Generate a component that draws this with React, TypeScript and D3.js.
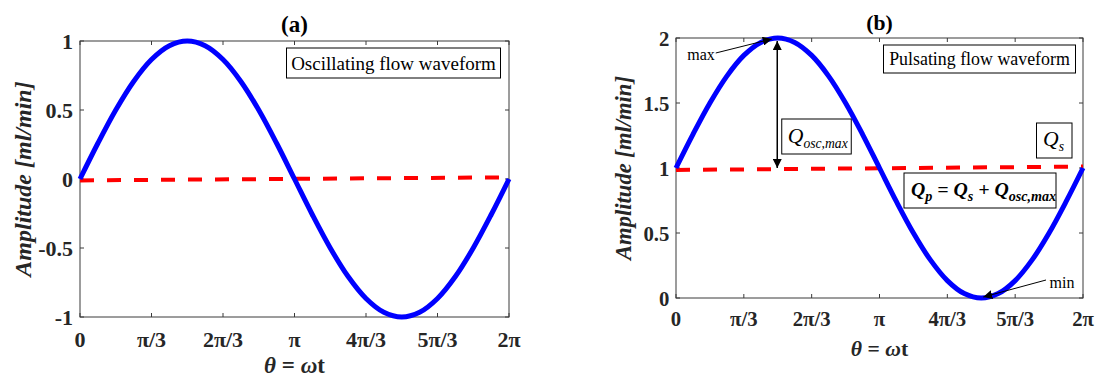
import React from "react";
import * as d3 from "d3";

const PI = Math.PI;

// ---- data ----
const thetaTicks = [0, PI / 3, (2 * PI) / 3, PI, (4 * PI) / 3, (5 * PI) / 3, 2 * PI];
const thetaTickLabels = ["0", "π/3", "2π/3", "π", "4π/3", "5π/3", "2π"];
const thetaSamples = [
  0, PI / 12, (2 * PI) / 12, (3 * PI) / 12, (4 * PI) / 12, (5 * PI) / 12, (6 * PI) / 12,
  (7 * PI) / 12, (8 * PI) / 12, (9 * PI) / 12, (10 * PI) / 12, (11 * PI) / 12, PI,
  (13 * PI) / 12, (14 * PI) / 12, (15 * PI) / 12, (16 * PI) / 12, (17 * PI) / 12, (18 * PI) / 12,
  (19 * PI) / 12, (20 * PI) / 12, (21 * PI) / 12, (22 * PI) / 12, (23 * PI) / 12, 2 * PI,
];
const oscillatingFlow = [
  0, 0.259, 0.5, 0.707, 0.866, 0.966, 1, 0.966, 0.866, 0.707, 0.5, 0.259, 0,
  -0.259, -0.5, -0.707, -0.866, -0.966, -1, -0.966, -0.866, -0.707, -0.5, -0.259, 0,
];
const pulsatingFlow = [
  1, 1.259, 1.5, 1.707, 1.866, 1.966, 2, 1.966, 1.866, 1.707, 1.5, 1.259, 1,
  0.741, 0.5, 0.293, 0.134, 0.034, 0, 0.034, 0.134, 0.293, 0.5, 0.741, 1,
];
const steadyTheta = [0, 2 * PI];
const steadyOscillating = [-0.01, 0.012];
const steadyPulsating = [0.985, 1.011];
const oscTicks = [-1, -0.5, 0, 0.5, 1];
const oscTickLabels = ["-1", "-0.5", "0", "0.5", "1"];
const pulsTicks = [0, 0.5, 1, 1.5, 2];
const pulsTickLabels = ["0", "0.5", "1", "1.5", "2"];

const FONT = "Liberation Serif, Times New Roman, Times, serif";
const AXIS = "#3a3a3a";

type Sc = d3.ScaleLinear<number, number>;
type PanelProps = {
  box: { l: number; r: number; t: number; b: number };
  yDomain: [number, number];
  yTicks: number[];
  yTickLabels: string[];
  values: number[];
  steady: number[];
  title: string;
  fs: number;
  yLabelX: number;
  xLabelDy: number;
  legend: string;
  legendBox: (x: Sc, y: Sc) => { x0: number; x1: number; y0: number; y1: number };
  extras?: (x: Sc, y: Sc) => React.ReactNode;
};

function Panel(p: PanelProps) {
  const { box, fs } = p;
  const x = d3.scaleLinear().domain([0, 2 * PI]).range([box.l, box.r]);
  const y = d3.scaleLinear().domain(p.yDomain).range([box.b, box.t]);
  const line = d3
    .line<number>()
    .x((_, i) => x(thetaSamples[i]))
    .y((d) => y(d))
    .curve(d3.curveCatmullRom);
  const steadyLine = d3
    .line<number>()
    .x((_, i) => x(steadyTheta[i]))
    .y((d) => y(d));
  const tl = 4;
  const lb = p.legendBox(x, y);
  const cx = (box.l + box.r) / 2;
  const cy = (box.t + box.b) / 2;
  return (
    <g fontFamily={FONT}>
      <rect x={box.l} y={box.t} width={box.r - box.l} height={box.b - box.t} fill="none" stroke={AXIS} strokeWidth={1} />
      {thetaTicks.map((t, i) => (
        <g key={"xt" + i}>
          <line x1={x(t)} x2={x(t)} y1={box.b} y2={box.b - tl} stroke={AXIS} />
          <line x1={x(t)} x2={x(t)} y1={box.t} y2={box.t + tl} stroke={AXIS} />
          <text x={x(t)} y={box.b + 30 * fs} textAnchor="middle" fontWeight="bold" fontSize={22 * fs} fill="#262626">
            {thetaTickLabels[i]}
          </text>
        </g>
      ))}
      {p.yTicks.map((v, i) => (
        <g key={"yt" + i}>
          <line x1={box.l} x2={box.l + tl} y1={y(v)} y2={y(v)} stroke={AXIS} />
          <line x1={box.r} x2={box.r - tl} y1={y(v)} y2={y(v)} stroke={AXIS} />
          <text x={box.l - 7 * fs} y={y(v) + 8 * fs} textAnchor="end" fontWeight="bold" fontSize={22 * fs} fill="#262626">
            {p.yTickLabels[i]}
          </text>
        </g>
      ))}
      <path d={steadyLine(p.steady) || ""} fill="none" stroke="#ff0000" strokeWidth={4} strokeDasharray="14 13" />
      <path d={line(p.values) || ""} fill="none" stroke="#0000ff" strokeWidth={5} />
      <text x={cx} y={box.t - 9 * fs} textAnchor="middle" fontWeight="bold" fontSize={23 * fs} fill="#000">
        {p.title}
      </text>
      <text x={cx} y={box.b + p.xLabelDy} textAnchor="middle" fontWeight="bold" fontSize={23 * fs} fill="#262626">
        <tspan fontStyle="italic">θ</tspan>
        <tspan> = </tspan>
        <tspan fontStyle="italic">ω</tspan>
        <tspan>t</tspan>
      </text>
      <text
        transform={`translate(${p.yLabelX},${cy}) rotate(-90)`}
        textAnchor="middle"
        dominantBaseline="central"
        fontWeight="bold"
        fontStyle="italic"
        fontSize={24 * fs}
        fill="#262626"
      >
        Amplitude [ml/min]
      </text>
      <rect x={lb.x0} y={lb.y0} width={lb.x1 - lb.x0} height={lb.y1 - lb.y0} fill="#fff" stroke="#000" strokeWidth={1} />
      <text x={(lb.x0 + lb.x1) / 2} y={(lb.y0 + lb.y1) / 2 + 6.5 * fs} textAnchor="middle" fontSize={19 * fs} fill="#000">
        {p.legend}
      </text>
      {p.extras && p.extras(x, y)}
    </g>
  );
}

export default function App() {
  const s = 0.942;
  return (
    <svg
      width={1096}
      height={380}
      viewBox="0 0 1096 380"
      style={{ position: "absolute", left: 0, top: 0, background: "#fff" }}
    >
      <defs>
        <marker id="ah" viewBox="0 0 10 10" refX="10" refY="5" markerWidth="9" markerHeight="9" markerUnits="userSpaceOnUse" orient="auto-start-reverse">
          <path d="M0,0 L10,5 L0,10 z" fill="#000" />
        </marker>
      </defs>
      <rect x={0} y={0} width={1096} height={380} fill="#fff" />
      <Panel
        box={{ l: 80, r: 509, t: 41, b: 317 }}
        yDomain={[-1, 1]}
        yTicks={oscTicks}
        yTickLabels={oscTickLabels}
        values={oscillatingFlow}
        steady={steadyOscillating}
        title="(a)"
        fs={1}
        yLabelX={23}
        xLabelDy={56}
        legend="Oscillating flow waveform"
        legendBox={(x, y) => ({ x0: x(PI) - 8, x1: x(2 * PI) - 8.5, y0: y(1) + 7, y1: y(1) + 37 })}
      />
      <Panel
        box={{ l: 676, r: 1083, t: 38, b: 298 }}
        yDomain={[0, 2]}
        yTicks={pulsTicks}
        yTickLabels={pulsTickLabels}
        values={pulsatingFlow}
        steady={steadyPulsating}
        title="(b)"
        fs={s}
        yLabelX={623}
        xLabelDy={58}
        legend="Pulsating flow waveform"
        legendBox={(x, y) => ({ x0: x(PI) + 4, x1: x(2 * PI) - 7.5, y0: y(2) + 7, y1: y(2) + 35 })}
        extras={(x, y) => {
          const px = x(PI / 2);
          const qx0 = px + 4;
          const qpx0 = x(PI) + 24.5;
          return (
            <g fontFamily={FONT}>
              <text x={px - 63} y={y(2) + 22} textAnchor="end" fontSize={17 * s} fill="#000">max</text>
              <line x1={px - 62} y1={y(2) + 15} x2={px - 6} y2={y(2) + 1} stroke="#000" strokeWidth={1} markerEnd="url(#ah)" />
              <line x1={px - 0.5} y1={y(2) + 3} x2={px - 0.5} y2={y(1)} stroke="#000" strokeWidth={1.5} markerEnd="url(#ah)" markerStart="url(#ah)" />
              <rect x={qx0} y={y(1) - 49} width={69.5} height={35} fill="#fff" stroke="#000" />
              <text x={qx0 + 6} y={y(1) - 25} fontSize={23 * s} fontStyle="italic" fill="#000">
                Q<tspan fontSize={14.5 * s} dy={5}>osc,max</tspan>
              </text>
              <rect x={x(2 * PI) - 46.5} y={y(1) - 45} width={35.5} height={35} fill="#fff" stroke="#000" />
              <text x={x(2 * PI) - 40} y={y(1) - 22} fontSize={23 * s} fontStyle="italic" fill="#000">
                Q<tspan fontSize={14.5 * s} dy={5}>s</tspan>
              </text>
              <rect x={qpx0} y={y(1) + 5} width={152} height={35} fill="#fff" stroke="#000" />
              <text x={qpx0 + 7} y={y(1) + 28} fontSize={21 * s} fontStyle="italic" fontWeight="bold" fill="#000">
                Q<tspan fontSize={15 * s} dy={5}>p</tspan>
                <tspan dy={-5}> = Q</tspan>
                <tspan fontSize={15 * s} dy={5}>s</tspan>
                <tspan dy={-5}> + Q</tspan>
                <tspan fontSize={15 * s} dy={5}>osc,max</tspan>
              </text>
              <text x={x(2 * PI) - 33.5} y={y(0) - 10} fontSize={17 * s} fill="#000">min</text>
              <line x1={x(2 * PI) - 37} y1={y(0) - 18} x2={x((3 * PI) / 2) + 2} y2={y(0) - 1} stroke="#000" strokeWidth={1} markerEnd="url(#ah)" />
            </g>
          );
        }}
      />
    </svg>
  );
}
